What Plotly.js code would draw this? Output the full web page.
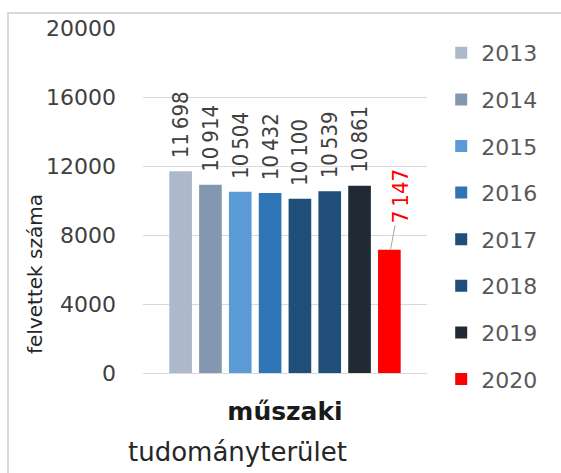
<!DOCTYPE html>
<html>
<head>
<meta charset="utf-8">
<script src="https://cdn.plot.ly/plotly-3.0.1.min.js"></script>
<style>
  html, body { margin: 0; padding: 0; background: #fff; }
  #wrap { position: relative; width: 561px; height: 473px; }
  #chart { width: 561px; height: 473px; }
  #frame { position: absolute; left: 7px; top: 12px; width: 560px; height: 470px;
           border-left: 2px solid #d9d9d9; border-top: 2px solid #d9d9d9; pointer-events: none; }
</style>
</head>
<body>
<div id="wrap">
  <div id="chart"></div>
  <div id="frame"></div>
</div>
<script>
const categories = ['műszaki'];
const years = ['2013', '2014', '2015', '2016', '2017', '2018', '2019', '2020'];
const values = [11698, 10914, 10504, 10432, 10100, 10539, 10861, 7147];
const colors = ['#ADB9CA', '#8497B0', '#5B9BD5', '#2E75B6', '#1F4E79', '#1F4E79', '#222A35', '#FF0000'];
const yTitle = 'felvettek száma';
const xTitle = 'tudományterület';
const highlightIndex = 7;

const FONT = 'DejaVu Sans, sans-serif';
const LABEL_FONT = 'Liberation Sans Narrow, DejaVu Sans Condensed, Roboto, sans-serif';
function fmt(v) {
  return String(v).replace(/\B(?=(\d{3})+(?!\d))/g, '\u2009');
}

const traces = years.map((yr, i) => ({
  type: 'bar',
  x: categories,
  y: [values[i]],
  name: yr,
  legendgroup: yr,
  marker: { color: colors[i], line: { width: 0 } },
  text: [i === highlightIndex ? '' : '\u2002' + fmt(values[i])],
  textposition: 'outside',
  textangle: -90,
  constraintext: 'none',
  cliponaxis: false,
  textfont: { family: LABEL_FONT, size: 22, color: '#404040' },
  hoverinfo: 'skip'
}));

const layout = {
  width: 561,
  height: 473,
  margin: { l: 143, r: 134, t: 28, b: 100 },
  paper_bgcolor: '#ffffff',
  plot_bgcolor: '#ffffff',
  barmode: 'group',
  bargap: 0.16,
  bargroupgap: 0.24,
  showlegend: true,
  legend: {
    x: 1.05, xanchor: 'left',
    y: 1.0 - 4 / 345, yanchor: 'top',
    traceorder: 'grouped',
    tracegroupgap: 15,
    maxheight: 460,
    font: { family: FONT, size: 22, color: '#595959' },
    bgcolor: 'rgba(0,0,0,0)'
  },
  xaxis: {
    type: 'category',
    showgrid: false,
    showline: true,
    linecolor: '#d9d9d9',
    linewidth: 1,
    ticks: '',
    ticklabelstandoff: 16,
    tickfont: { family: FONT, size: 25, color: '#1a1a1a', weight: 'bold' }
  },
  yaxis: {
    range: [0, 20000],
    dtick: 4000,
    tick0: 0,
    tickformat: 'd',
    showgrid: true,
    gridcolor: '#d9d9d9',
    gridwidth: 1,
    zeroline: false,
    showline: false,
    ticks: '',
    ticklabelstandoff: 26,
    tickfont: { family: FONT, size: 22, color: '#404040' }
  },
  annotations: [
    {
      xref: 'paper', yref: 'paper',
      x: (35 - 143) / 284, y: (373 - 274) / 345,
      text: yTitle, textangle: -90, showarrow: false,
      xanchor: 'center', yanchor: 'middle',
      font: { family: FONT, size: 20, color: '#262626' }
    },
    {
      xref: 'paper', yref: 'paper',
      x: (237 - 143) / 284, y: -(452 - 373) / 345,
      text: xTitle, showarrow: false,
      xanchor: 'center', yanchor: 'middle',
      font: { family: FONT, size: 26, color: '#262626' }
    },
    {
      x: categories[0], y: values[highlightIndex],
      xshift: 105.5,
      text: fmt(values[highlightIndex]),
      textangle: -90,
      showarrow: true,
      arrowhead: 0,
      arrowwidth: 1,
      arrowcolor: '#a6a6a6',
      standoff: 0,
      ax: 10, ay: -53,
      font: { family: LABEL_FONT, size: 22, color: '#FF0000' }
    }
  ]
};

Plotly.newPlot('chart', traces, layout, { displayModeBar: false, staticPlot: true });
</script>
</body>
</html>
